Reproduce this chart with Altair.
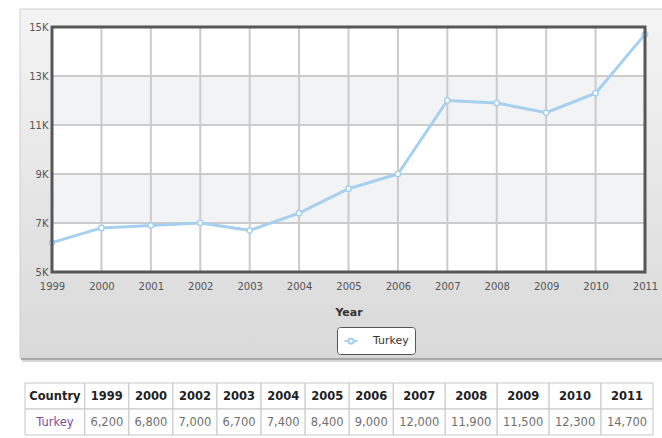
import altair as alt
import pandas as pd

# ---- data ----
years = [1999, 2000, 2001, 2002, 2003, 2004, 2005, 2006, 2007, 2008, 2009, 2010, 2011]
values = [6200, 6800, 6900, 7000, 6700, 7400, 8400, 9000, 12000, 11900, 11500, 12300, 14700]
country = "Turkey"
y_ticks = [5000, 7000, 9000, 11000, 13000, 15000]
table_years = [1999, 2000, 2002, 2003, 2004, 2005, 2006, 2007, 2008, 2009, 2010, 2011]
x_title = "Year"
header_label = "Country"

# ---- style ----
W, H = 593, 245
FONT = "DejaVu Sans"
LINE_COLOR = "#a6d0ee"
GRID_COLOR = "#cbcbcb"
BAND_COLOR = "#f2f3f5"
BORDER_COLOR = "#575757"

series = pd.DataFrame({"Year": years, "Value": values, "Country": [country] * len(years)})

xs = alt.Scale(domain=[years[0], years[-1]], nice=False, zero=False)
ys = alt.Scale(domain=[y_ticks[0], y_ticks[-1]], nice=False, zero=False)

xaxis = alt.Axis(values=years, format="d", grid=False, domain=False, ticks=False,
                 labelFlush=False, labelPadding=9, labelFont=FONT, labelFontSize=10,
                 labelColor="#555555", title=x_title, titleFont=FONT, titleFontSize=11,
                 titleFontWeight="bold", titleColor="#333333", titleY=40,
                 titleBaseline="middle", zindex=1)
yaxis = alt.Axis(values=y_ticks, labelExpr="datum.value / 1000 + 'K'", grid=False,
                 domain=False, ticks=False, labelFlush=False, labelPadding=4,
                 labelFont=FONT, labelFontSize=10, labelColor="#555555", title=None,
                 zindex=1)

one = pd.DataFrame({"k": [0]})

# ---- grey panel behind the chart ----
panel = alt.Chart(one).mark_rect(
    fill=alt.Gradient(gradient="linear",
                      stops=[alt.GradientStop(color="#f4f4f4", offset=0),
                             alt.GradientStop(color="#d9d9d9", offset=1)],
                      x1=0, x2=0, y1=0, y2=1),
    stroke="#d0d0d0", strokeWidth=1,
).encode(x=alt.value(-32), x2=alt.value(630), y=alt.value(-18), y2=alt.value(331))
shadow1 = alt.Chart(one).mark_rect(color="#a9a9a9").encode(
    x=alt.value(-31), x2=alt.value(630), y=alt.value(331), y2=alt.value(333))
shadow2 = alt.Chart(one).mark_rect(color="#d8d8d8").encode(
    x=alt.value(-30), x2=alt.value(630), y=alt.value(333), y2=alt.value(335))

# ---- plot area ----
X0 = alt.XDatum(years[0], type="quantitative", scale=xs, axis=xaxis)
X1 = alt.X2Datum(years[-1])
Y0 = alt.YDatum(y_ticks[0], type="quantitative", scale=ys, axis=yaxis)
Y1 = alt.Y2Datum(y_ticks[-1])

white_bg = alt.Chart(one).mark_rect(color="white").encode(x=X0, x2=X1, y=Y0, y2=Y1)

bands = pd.DataFrame({
    "lo": [y_ticks[i] for i in range(len(y_ticks) - 1) if i % 2 == 1],
    "hi": [y_ticks[i + 1] for i in range(len(y_ticks) - 1) if i % 2 == 1],
})
band = alt.Chart(bands).mark_rect(color=BAND_COLOR).encode(
    x=X0, x2=X1,
    y=alt.Y("lo:Q", scale=ys, axis=yaxis), y2="hi:Q")

vgrid = alt.Chart(series).mark_rule(color=GRID_COLOR, strokeWidth=2).encode(
    x=alt.X("Year:Q", scale=xs, axis=xaxis), y=Y0, y2=Y1)

hgrid_df = pd.DataFrame({"t": y_ticks})
hgrid = alt.Chart(hgrid_df).mark_rule(color=GRID_COLOR, strokeWidth=2).encode(
    y=alt.Y("t:Q", scale=ys, axis=yaxis), x=X0, x2=X1)

legend_path = ("M-1,0L-0.4,0M0.4,0L1,0M-0.4,0A0.4,0.4,0,1,0,0.4,0"
               "A0.4,0.4,0,1,0,-0.4,0")
line = alt.Chart(series).mark_line(strokeWidth=3).encode(
    x=alt.X("Year:Q", scale=xs, axis=xaxis),
    y=alt.Y("Value:Q", scale=ys, axis=yaxis),
    color=alt.Color("Country:N", scale=alt.Scale(range=[LINE_COLOR]),
                    legend=alt.Legend(orient="none", legendX=285, legendY=300,
                                      title=None, fillColor="white",
                                      strokeColor="#555555", padding=6,
                                      cornerRadius=3, symbolType=legend_path,
                                      symbolSize=170, symbolStrokeWidth=2,
                                      symbolStrokeColor=LINE_COLOR,
                                      symbolFillColor="white", labelFont=FONT,
                                      labelFontSize=11, labelColor="#333333",
                                      labelOffset=14)),
)
points = alt.Chart(series).mark_point(shape="circle", filled=True, fill="white",
                                      stroke=LINE_COLOR, strokeWidth=1.5, size=28,
                                      opacity=1).encode(
    x=alt.X("Year:Q", scale=xs, axis=xaxis),
    y=alt.Y("Value:Q", scale=ys, axis=yaxis))

border = alt.Chart(one).mark_rect(fillOpacity=0, stroke=BORDER_COLOR, strokeWidth=3).encode(
    x=X0, x2=X1, y=Y0, y2=Y1)

main = alt.layer(white_bg, band, vgrid, hgrid, line, points, border)

# ---- data table below the chart ----
value_of = dict(zip(years, values))
headers = [header_label] + [str(y) for y in table_years]
row_vals = [country] + [f"{value_of[y]:,}" for y in table_years]
widths = [max(len(h), len(v)) + 0.6 for h, v in zip(headers, row_vals)]
cells = []
start = 0.0
for i, (h, v, w) in enumerate(zip(headers, row_vals, widths)):
    cells.append({"x0": start, "x1": start + w, "r0": 0, "r1": 1,
                  "xc": start + w / 2, "rc": 0.55, "txt": h, "kind": "head"})
    cells.append({"x0": start, "x1": start + w, "r0": 1, "r1": 2,
                  "xc": start + w / 2, "rc": 1.55, "txt": v,
                  "kind": "name" if i == 0 else "val"})
    start += w
cells_df = pd.DataFrame(cells)
tx = alt.Scale(domain=[0, start], range=[-27, 601], nice=False, zero=False)
ty = alt.Scale(domain=[0, 2], range=[356, 408], nice=False, zero=False)

cell_rect = alt.Chart(cells_df).mark_rect(fill="white", stroke="#c6c6c6", strokeWidth=1).encode(
    x=alt.X("x0:Q", scale=tx, axis=None), x2="x1:Q",
    y=alt.Y("r0:Q", scale=ty, axis=None), y2="r1:Q")
head_txt = alt.Chart(cells_df).transform_filter("datum.kind == 'head'").mark_text(
    font=FONT, fontSize=11.5, fontWeight="bold", color="#222222").encode(
    x=alt.X("xc:Q", scale=tx, axis=None), y=alt.Y("rc:Q", scale=ty, axis=None), text="txt:N")
val_txt = alt.Chart(cells_df).transform_filter("datum.kind == 'val'").mark_text(
    font=FONT, fontSize=11.5, color="#6f6f6f").encode(
    x=alt.X("xc:Q", scale=tx, axis=None), y=alt.Y("rc:Q", scale=ty, axis=None), text="txt:N")
name_txt = alt.Chart(cells_df).transform_filter("datum.kind == 'name'").mark_text(
    font=FONT, fontSize=11.5, color="#7a4ca0").encode(
    x=alt.X("xc:Q", scale=tx, axis=None), y=alt.Y("rc:Q", scale=ty, axis=None), text="txt:N")
table = alt.layer(cell_rect, head_txt, val_txt, name_txt)

deco = alt.layer(panel, shadow1, shadow2)

chart = alt.layer(deco, main, table).resolve_scale(
    x="independent", y="independent"
).properties(
    width=W, height=H, autosize="none", background="white",
    padding={"left": 52, "top": 27, "right": 17, "bottom": 166},
).configure_view(strokeWidth=0)

chart.save("out.html", embed_options={"renderer": "svg", "actions": False})
